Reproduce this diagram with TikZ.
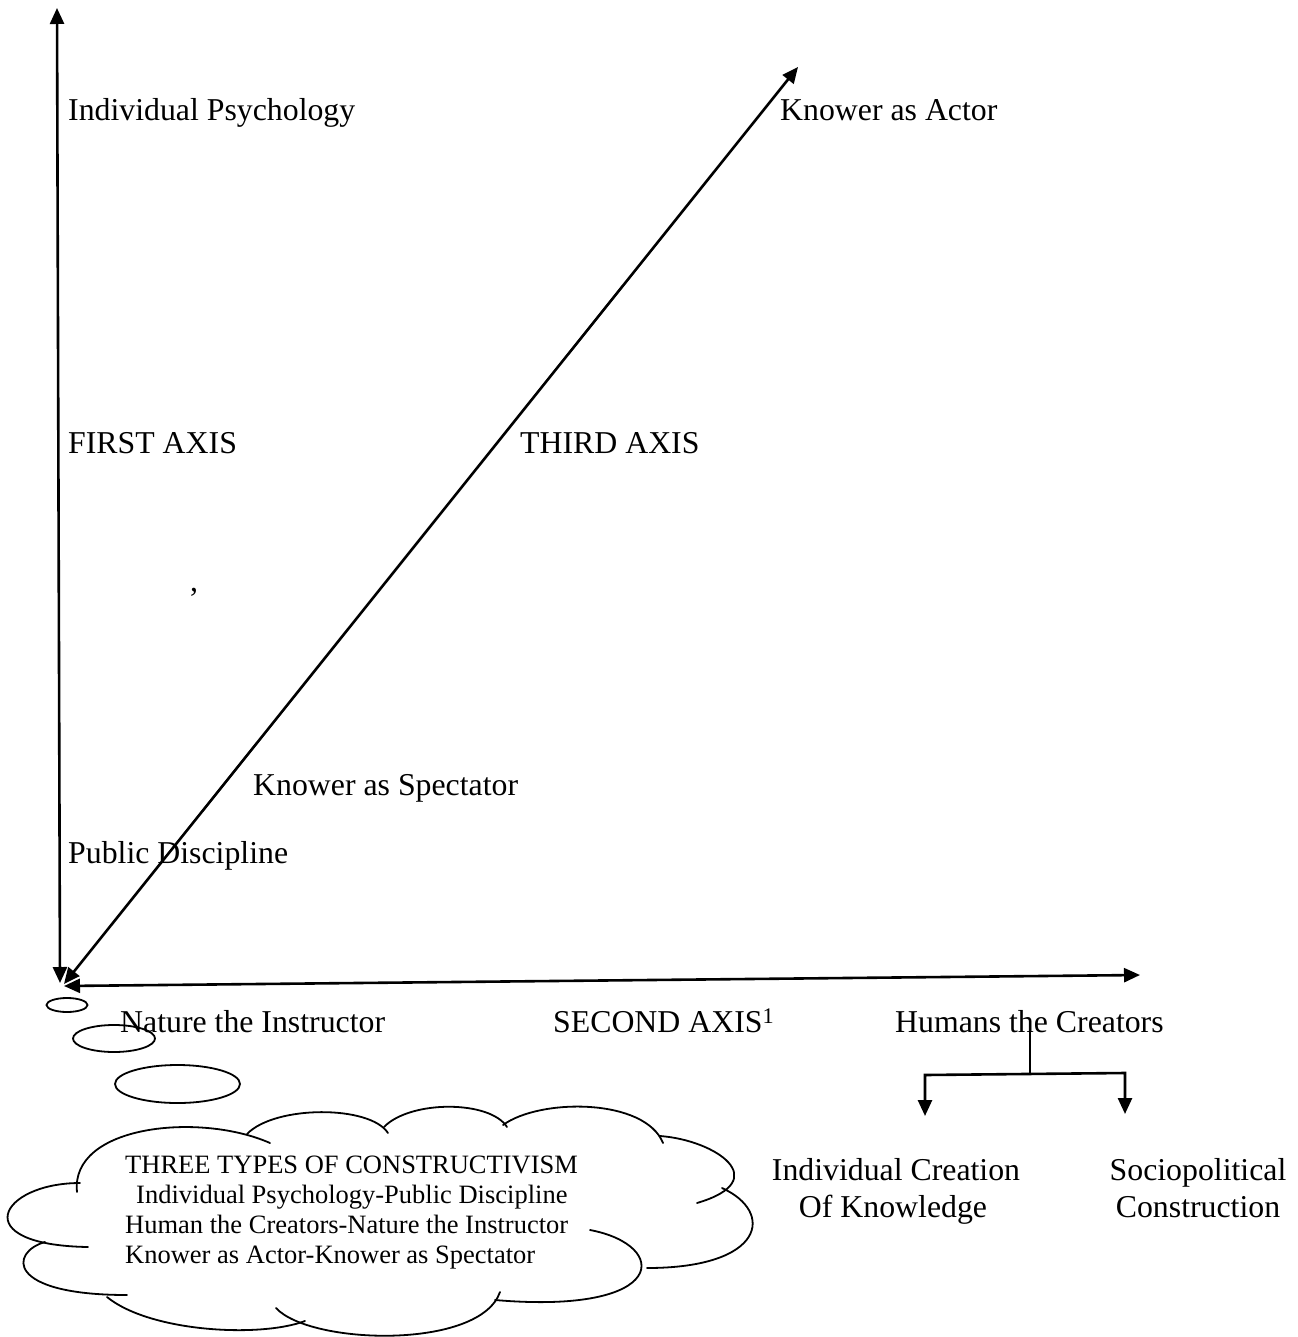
\documentclass[tikz,border=0pt]{standalone}
\usepackage{fontspec}
\setmainfont{Liberation Serif}
\usetikzlibrary{arrows.meta,shapes.geometric}
\begin{document}
\begin{tikzpicture}[x=1pt,y=-1pt,
  tip/.tip={Triangle[length=16pt,width=14pt]},
  axisline/.style={line width=2.6pt, tip-tip},
  branchline/.style={line width=2.6pt, line join=miter},
  lbl/.style={anchor=base west, inner sep=0pt, font=\fontsize{31.8}{37}\selectfont},
  lblc/.style={anchor=base, inner sep=0pt, font=\fontsize{31.8}{37}\selectfont},
  cloudline/.style={line width=1.8pt, line cap=round},
  bubble/.style={draw, ellipse, line width=1.8pt, inner sep=0pt}]
\useasboundingbox (0,0) rectangle (1297,1337);

% axis end points
\coordinate (vtop) at (57,8);
\coordinate (vbot) at (60,983);
\coordinate (dtop) at (798,67);
\coordinate (dbot) at (64,984);
\coordinate (hleft) at (64,986);
\coordinate (hright) at (1140,975);

% the three axes
\draw[axisline] (vbot) -- (vtop);
\draw[axisline] (dbot) -- (dtop);
\draw[axisline] (hleft) -- (hright);

% axis labels
\node[lbl] (ip) at (68,120.5) {Individual Psychology};
\node[lbl] (ka) at (780,120.5) {Knower as Actor};
\node[lbl] (fa) at (68,453.5) {FIRST AXIS};
\node[lbl] (ta) at (520,453.5) {THIRD AXIS};
\node[lbl] (cm) at (190,591) {,};
\node[lbl] (ks) at (253,795.5) {Knower as Spectator};
\node[lbl] (pd) at (68,863.5) {Public Discipline};
\node[lbl] (ni) at (120,1032.5) {Nature the Instructor};
\node[lbl] (sa) at (553,1032.5) {SECOND AXIS\textsuperscript{1}};
\node[lbl] (hc) at (895,1032.5) {Humans the Creators};

% split below "Humans the Creators"
\node[lblc] (ick1) at (896,1180.5) {Individual Creation};
\node[lblc] (ick2) at (893,1217.5) {Of Knowledge};
\node[lblc] (sc1) at (1198,1180.5) {Sociopolitical};
\node[lblc] (sc2) at (1198,1217.5) {Construction};
\coordinate (stemtop) at (1030,1030);
\coordinate (stembot) at (1030,1075);
\coordinate (barL) at (925,1075);
\coordinate (barR) at (1125,1073);
\coordinate (tipL) at (925,1116);
\coordinate (tipR) at (1125,1114);
\draw[line width=1.8pt] (stemtop) -- (stembot);
\draw[branchline, tip-tip] (tipL) -- (barL) -- (barR) -- (tipR);

% thought bubbles
\node[bubble, minimum width=41pt, minimum height=14pt] (b1) at (67,1005) {};
\node[bubble, minimum width=82pt, minimum height=27pt] (b2) at (114,1038.5) {};
\node[bubble, minimum width=125pt, minimum height=38pt] (b3) at (177.5,1084) {};

% cloud outline, one arc per bump
\draw[cloudline] (80,1183) .. controls (0,1183) and (-35,1245) .. (88,1247);
\draw[cloudline] (77,1192) .. controls (70,1125) and (200,1112) .. (270,1143);
\draw[cloudline] (247,1134) .. controls (275,1105) and (370,1105) .. (388,1133);
\draw[cloudline] (384,1127) .. controls (410,1100) and (490,1100) .. (507,1127);
\draw[cloudline] (503,1125) .. controls (540,1098) and (645,1098) .. (663,1143);
\draw[cloudline] (660,1136) .. controls (715,1140) and (775,1180) .. (697,1203);
\draw[cloudline] (722,1188) .. controls (775,1212) and (765,1268) .. (647,1268);
\draw[cloudline] (590,1230) .. controls (670,1245) and (670,1315) .. (495,1300);
\draw[cloudline] (276,1308) .. controls (310,1345) and (480,1350) .. (500,1292);
\draw[cloudline] (107,1297) .. controls (150,1332) and (260,1338) .. (305,1321);
\draw[cloudline] (45,1242) .. controls (10,1252) and (5,1295) .. (127,1295);

% cloud text
\node[anchor=north west, inner sep=0pt, align=left,
      font=\fontsize{26.5}{30}\selectfont] (ct) at (125,1156)
  {THREE TYPES OF CONSTRUCTIVISM\\
   \hspace*{11pt}Individual Psychology-Public Discipline\\
   Human the Creators-Nature the Instructor\\
   Knower as Actor-Knower as Spectator};
\end{tikzpicture}
\end{document}
